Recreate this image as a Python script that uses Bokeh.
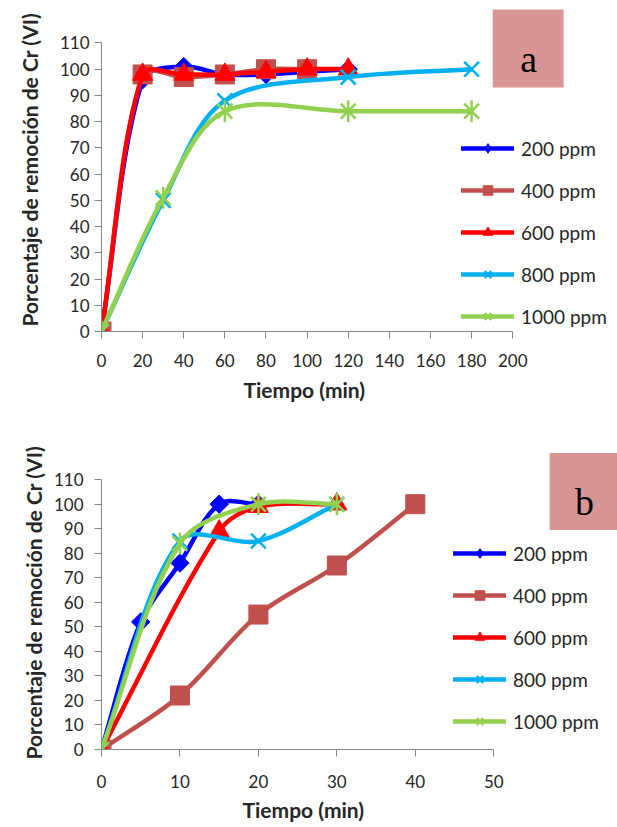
import math
from bokeh.plotting import figure
from bokeh.models import Range1d, Legend, LegendItem, Label, BoxAnnotation, FixedTicker, Title
from bokeh.layouts import column
from bokeh.embed import file_html
from bokeh.resources import INLINE

# ---------------- data: chart a ----------------
a_series_labels = ["200 ppm", "400 ppm", "600 ppm", "800 ppm", "1000 ppm"]
a_x_200 = [0, 20, 40, 60, 80, 100, 120]
a_y_200 = [0, 96, 101, 98, 98, 99, 100]
a_x_400 = [0, 20, 40, 60, 80, 100]
a_y_400 = [0, 98, 97, 98, 100, 100]
a_x_600 = [0, 20, 40, 60, 80, 100, 120]
a_y_600 = [0, 98, 98, 98, 99, 100, 100]
a_x_800 = [0, 30, 60, 120, 180]
a_y_800 = [0, 50, 88, 97, 100]
a_x_1000 = [0, 30, 60, 120, 180]
a_y_1000 = [0, 51, 84, 84, 84]
a_xticks = [0, 20, 40, 60, 80, 100, 120, 140, 160, 180, 200]
a_yticks = [0, 10, 20, 30, 40, 50, 60, 70, 80, 90, 100, 110]

# ---------------- data: chart b ----------------
b_series_labels = ["200 ppm", "400 ppm", "600 ppm", "800 ppm", "1000 ppm"]
b_x_200 = [0, 5, 10, 15, 20]
b_y_200 = [0, 52, 76, 100, 100]
b_x_400 = [0, 10, 20, 30, 40]
b_y_400 = [0, 22, 55, 75, 100]
b_x_600 = [0, 15, 20, 30]
b_y_600 = [0, 89, 99, 100]
b_x_800 = [0, 10, 20, 30]
b_y_800 = [0, 85, 85, 100]
b_x_1000 = [0, 10, 20, 30]
b_y_1000 = [0, 84, 100, 100]
b_xticks = [0, 10, 20, 30, 40, 50]
b_yticks = [0, 10, 20, 30, 40, 50, 60, 70, 80, 90, 100, 110]

x_title = "Tiempo (min)"
a_y_title = "Porcentaje  de remoción de Cr (VI)"
b_y_title = "Porcentaje de remoción de  Cr (VI)"

colors = ["#0000FF", "#C0504D", "#FF0000", "#00B0F0", "#92D050"]
TEXT = "#262626"
AXIS = "#868686"
FONT = "Lato"


def smooth(xs, ys, sx, sy):
    """Excel-like smoothed line: cubic Bezier segments, control points in pixel space."""
    P = [(x * sx, y * sy) for x, y in zip(xs, ys)]
    n = len(P)
    out = dict(x0=[], y0=[], x1=[], y1=[], cx0=[], cy0=[], cx1=[], cy1=[])
    d = lambda a, b: math.hypot(b[0] - a[0], b[1] - a[1])
    for i in range(n - 1):
        p0 = P[i - 1] if i > 0 else P[i]
        p1, p2 = P[i], P[i + 1]
        p3 = P[i + 2] if i + 2 < n else P[i + 1]
        d01, d12, d23 = d(p0, p1), d(p1, p2), d(p2, p3)
        f1 = d12 / (d01 + d12) / 3.0 if d01 + d12 > 0 else 0
        f2 = d12 / (d12 + d23) / 3.0 if d12 + d23 > 0 else 0
        c1 = (p1[0] + (p2[0] - p0[0]) * f1, p1[1] + (p2[1] - p0[1]) * f1)
        c2 = (p2[0] - (p3[0] - p1[0]) * f2, p2[1] - (p3[1] - p1[1]) * f2)
        out["x0"].append(p1[0] / sx); out["y0"].append(p1[1] / sy)
        out["x1"].append(p2[0] / sx); out["y1"].append(p2[1] / sy)
        out["cx0"].append(c1[0] / sx); out["cy0"].append(c1[1] / sy)
        out["cx1"].append(c2[0] / sx); out["cy1"].append(c2[1] / sy)
    return out


def make_chart(W, H, x0px, x1px, y0px, y1px, xmax, ymax, xticks, yticks, series,
               labels, legend_left, legend_first, ytitle, ytitle_off, ytitle_stand,
               xtitle_off, xtitle_stand, box, letter, letter_pos, ystandoff, xstandoff):
    sx = (x1px - x0px) / xmax
    sy = (y0px - y1px) / ymax
    # canvas pixel -> data helpers (for annotations only)
    dx = lambda cx: (cx - x0px) / sx
    dy = lambda cy: (y0px - cy) / sy
    p = figure(width=W, height=H, output_backend="svg", toolbar_location=None,
               x_range=Range1d(0, dx(W)), y_range=Range1d(0, dy(0)),
               min_border_left=x0px, min_border_right=0,
               min_border_top=0, min_border_bottom=H - y0px)
    p.outline_line_color = None
    p.grid.visible = False
    p.background_fill_color = "white"
    p.border_fill_color = "white"

    for ax, ticks, stand, mx in ((p.xaxis, xticks, xstandoff, xmax), (p.yaxis, yticks, ystandoff, ymax)):
        ax.ticker = FixedTicker(ticks=ticks)
        ax.bounds = (0, mx)
        ax.axis_line_color = AXIS
        ax.major_tick_line_color = AXIS
        ax.major_tick_out = 7
        ax.major_tick_in = 0
        ax.minor_tick_line_color = None
        ax.major_label_text_font = FONT
        ax.major_label_text_font_size = "17px"
        ax.major_label_text_color = TEXT
        ax.major_label_standoff = stand

    items = []
    for k, ((xs, ys), col, lab) in enumerate(zip(series, colors, labels)):
        seg = smooth(xs, ys, sx, sy)
        bez = p.bezier(x0=seg["x0"], y0=seg["y0"], x1=seg["x1"], y1=seg["y1"],
                       cx0=seg["cx0"], cy0=seg["cy0"], cx1=seg["cx1"], cy1=seg["cy1"],
                       line_color=col, line_width=4.5, line_cap="round")
        rs = [bez]
        if k == 0:
            p.scatter(xs, ys, marker="square", angle=math.pi / 4, size=13,
                      fill_color=col, line_color=col)
            # zero-size twin: invisible on the plot, gives the legend key a diamond
            rs.append(p.scatter(xs, ys, marker="diamond", size=0,
                                fill_color=col, line_color=col))
        elif k == 1:
            rs.append(p.scatter(xs, ys, marker="square", size=19,
                                fill_color=col, line_color=col))
        elif k == 2:
            rs.append(p.scatter(xs, ys, marker="triangle", size=20,
                                fill_color=col, line_color=col))
        elif k == 3:
            rs.append(p.scatter(xs, ys, marker="x", size=21, line_color=col, line_width=2.5))
        else:
            rs.append(p.scatter(xs, ys, marker="x", size=21, line_color=col, line_width=2.5))
            rs.append(p.scatter(xs, ys, marker="dash", angle=math.pi / 2, size=22,
                                line_color=col, line_width=2.5))
        items.append(LegendItem(label=lab, renderers=rs))

    gh, spc = 24, 18
    leg_bottom = legend_first - gh / 2 + 5 * gh + 4 * spc
    legend = Legend(items=items, location=(legend_left - x0px, y0px - leg_bottom),
                    orientation="vertical", padding=0, margin=0, spacing=spc,
                    glyph_width=53, glyph_height=gh, label_height=gh, label_standoff=7,
                    label_text_font=FONT, label_text_font_size="19px", label_text_color=TEXT,
                    border_line_color=None, background_fill_alpha=0)
    p.add_layout(legend)

    p.add_layout(Title(text=x_title, align="left", offset=xtitle_off, standoff=xtitle_stand,
                       text_font=FONT, text_font_size="21px", text_font_style="bold",
                       text_color=TEXT), "below")
    p.add_layout(Title(text=ytitle, align="left", offset=ytitle_off, standoff=ytitle_stand,
                       text_font=FONT, text_font_size="21px", text_font_style="bold",
                       text_color=TEXT), "left")

    p.add_layout(BoxAnnotation(left=dx(box[0]), right=dx(box[1]), top=dy(box[2]), bottom=dy(box[3]),
                               fill_color="#D99594", fill_alpha=1, line_color=None, level="overlay"))
    p.add_layout(Label(x=dx(letter_pos[0]), y=dy(letter_pos[1]),
                       text=letter, text_font="Liberation Serif", text_font_size="38px",
                       text_color="black", text_align="center", text_baseline="alphabetic",
                       level="overlay"))
    return p


W = 617
HA, HB = 407, 419
pa = make_chart(W, HA, 100, 512, 335, 43, 200, 110, a_xticks, a_yticks,
                [(a_x_200, a_y_200), (a_x_400, a_y_400), (a_x_600, a_y_600),
                 (a_x_800, a_y_800), (a_x_1000, a_y_1000)],
                a_series_labels, 460, 152, a_y_title, 5, 29, 142, 11,
                (492, 563, 9, 88), "a", (528, 59), 5, 15)
pb = make_chart(W, HB, 100, 493, 346, 73, 50, 110, b_xticks, b_yticks,
                [(b_x_200, b_y_200), (b_x_400, b_y_400), (b_x_600, b_y_600),
                 (b_x_800, b_y_800), (b_x_1000, b_y_1000)],
                b_series_labels, 452, 150, b_y_title, -10, 10, 141, 9,
                (549, 620, 46, 124), "b", (584, 96), 11, 18)

layout = column(pa, pb, spacing=0)
open("out.html", "w").write(file_html(layout, INLINE))
